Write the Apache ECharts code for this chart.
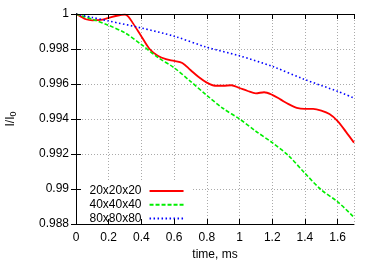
<!DOCTYPE html>
<html><head><meta charset="utf-8">
<script src="https://cdn.jsdelivr.net/npm/echarts@6/dist/echarts.min.js"></script>
<style>html,body{margin:0;padding:0;background:#fff}#c{width:374px;height:261px}</style>
</head><body><div id="c"></div>
<script>
const seriesNames = ['20x20x20', '40x40x40', '80x80x80'];
const xTicks = [0, 0.2, 0.4, 0.6, 0.8, 1, 1.2, 1.4, 1.6];
const yTicks = [0.988, 0.99, 0.992, 0.994, 0.996, 0.998, 1];

const redT = [0, 0.03, 0.06, 0.1, 0.15, 0.2, 0.25, 0.3, 0.32, 0.35, 0.4, 0.45, 0.5, 0.55, 0.6, 0.65, 0.7, 0.75, 0.8, 0.85, 0.9, 0.95, 1.0, 1.05, 1.1, 1.15, 1.2, 1.25, 1.3, 1.35, 1.4, 1.45, 1.5, 1.55, 1.6, 1.65, 1.7];
const redV = [1, 0.99985, 0.9997, 0.99964, 0.99966, 0.99978, 0.9999, 0.99996, 0.99985, 0.99945, 0.99872, 0.998, 0.99762, 0.99742, 0.99732, 0.9972, 0.9968, 0.9964, 0.99608, 0.9959, 0.9959, 0.99593, 0.99577, 0.9956, 0.99547, 0.99553, 0.99538, 0.99512, 0.99485, 0.99464, 0.99458, 0.99458, 0.99448, 0.99428, 0.99388, 0.99328, 0.99265];

const greenT = [0, 0.05, 0.1, 0.2, 0.3, 0.4, 0.5, 0.6, 0.7, 0.8, 0.9, 1.0, 1.1, 1.2, 1.3, 1.4, 1.5, 1.6, 1.7];
const greenV = [1, 0.99985, 0.9997, 0.99935, 0.99892, 0.99825, 0.99752, 0.99693, 0.99615, 0.99535, 0.9946, 0.994, 0.9933, 0.99265, 0.9919, 0.9909, 0.98995, 0.98927, 0.98838];

const blueT = [0, 0.1, 0.2, 0.4, 0.6, 0.8, 1.0, 1.2, 1.4, 1.6, 1.7];
const blueV = [1, 0.9998, 0.9996, 0.9992, 0.99873, 0.9981, 0.99761, 0.99701, 0.99625, 0.99558, 0.9952];

const pairs = (t, v) => t.map((x, i) => [x, v[i]]);
const FONT = 'Liberation Sans, Arial, sans-serif';
const fmtY = v => String(Number(v.toFixed(3)));
const fmtX = v => String(Number(v.toFixed(1)));

const chart = echarts.init(document.getElementById('c'), null, {renderer: 'canvas'});
const baseX = {type: 'value', min: xTicks[0], max: 1.7, interval: 0.2};
const baseY = {type: 'value', min: yTicks[0], max: yTicks[yTicks.length - 1], interval: 0.002};
const frame = {show: true, lineStyle: {color: '#000', width: 1}};
const ticks = {show: true, inside: true, length: 5, lineStyle: {color: '#000'}};
const grid = {show: true, lineStyle: {color: '#aaa', type: [1, 2], width: 1}};
chart.setOption({
  animation: false,
  backgroundColor: '#fff',
  grid: {left: 76, right: 20, top: 14, bottom: 37, containLabel: false, outerBoundsMode: 'none'},
  xAxis: [
    Object.assign({}, baseX, {
      position: 'bottom', z: 3,
      name: 'time, ms', nameLocation: 'middle', nameGap: 25,
      nameTextStyle: {fontFamily: FONT, fontSize: 12, color: '#000'},
      axisLine: frame, axisTick: ticks,
      axisLabel: {fontFamily: FONT, fontSize: 12, color: '#000', margin: 8, showMaxLabel: false, formatter: fmtX},
      splitLine: {show: false}
    }),
    Object.assign({}, baseX, {
      position: 'top', z: 3,
      axisLine: frame, axisTick: ticks,
      axisLabel: {show: false}, splitLine: {show: false}
    }),
    Object.assign({}, baseX, {
      position: 'bottom', z: 0,
      axisLine: {show: false}, axisTick: {show: false},
      axisLabel: {show: false}, splitLine: grid
    })
  ],
  yAxis: [
    Object.assign({}, baseY, {
      position: 'left', z: 3,
      name: 'I/I{s|0}', nameLocation: 'middle', nameGap: 58, nameRotate: 90,
      nameTextStyle: {fontFamily: FONT, fontSize: 12, color: '#000',
        rich: {s: {fontFamily: FONT, fontSize: 9, color: '#000', verticalAlign: 'bottom', padding: [6, 0, 0, 0]}}},
      axisLine: frame, axisTick: ticks,
      axisLabel: {fontFamily: FONT, fontSize: 12, color: '#000', margin: 7, formatter: fmtY},
      splitLine: {show: false}
    }),
    Object.assign({}, baseY, {
      position: 'right', z: 3,
      axisLine: frame, axisTick: ticks,
      axisLabel: {show: false}, splitLine: {show: false}
    }),
    Object.assign({}, baseY, {
      position: 'left', z: 0,
      axisLine: {show: false}, axisTick: {show: false},
      axisLabel: {show: false}, splitLine: grid
    })
  ],
  legend: {
    z: 1,
    orient: 'vertical', align: 'right', left: 76.5, top: 182,
    padding: [3, 7, 6, 13], itemGap: 1.7, itemWidth: 34, itemHeight: 10,
    backgroundColor: '#fff',
    itemStyle: {opacity: 0},
    textStyle: {fontFamily: FONT, fontSize: 12, color: '#000', lineHeight: 10, padding: [0, 3, 0, 0]},
    data: seriesNames
  },
  series: [
    {name: seriesNames[0], type: 'line', z: 2, data: pairs(redT, redV), symbol: 'none', smooth: 0.3,
     lineStyle: {color: '#ff0000', width: 1.8, type: 'solid'}, itemStyle: {color: '#ff0000'}},
    {name: seriesNames[1], type: 'line', z: 2, data: pairs(greenT, greenV), symbol: 'none', smooth: 0.3,
     lineStyle: {color: '#00ee00', width: 1.6, type: [4, 2]}, itemStyle: {color: '#00ee00'}},
    {name: seriesNames[2], type: 'line', z: 2, data: pairs(blueT, blueV), symbol: 'none', smooth: 0.3,
     lineStyle: {color: '#0000ff', width: 1.6, type: [1.5, 2.5]}, itemStyle: {color: '#0000ff'}}
  ]
});
</script></body></html>
